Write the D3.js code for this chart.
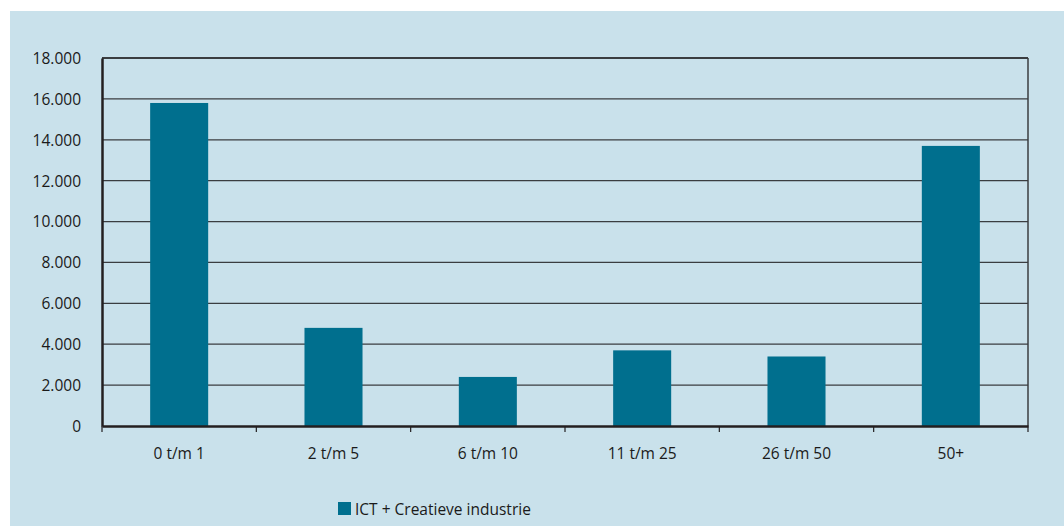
<!DOCTYPE html>
<html>
<head>
<meta charset="utf-8">
<script src="https://cdn.jsdelivr.net/npm/d3@7"></script>
<style>
  body { margin: 0; background: #fff; }
  svg text { font-family: "Open Sans", "Noto Sans", sans-serif; font-size: 15.5px; fill: #1a1a1a; }
</style>
</head>
<body>
<div id="chart"></div>
<script>
// data
var categories = ['0 t/m 1', '2 t/m 5', '6 t/m 10', '11 t/m 25', '26 t/m 50', '50+'];
var values = [15800, 4800, 2400, 3700, 3400, 13700];
var yTicks = [0, 2000, 4000, 6000, 8000, 10000, 12000, 14000, 16000, 18000];
var seriesName = 'ICT + Creatieve industrie';

var size = { w: 1064, h: 526 };
var plot = { left: 102, right: 1028, top: 58, bottom: 426 };
var barColor = '#006f8e';
var fontSize = '15.5px';

var svg = d3.select('#chart').append('svg')
  .attr('width', size.w)
  .attr('height', size.h);

// background panel
svg.append('rect')
  .attr('x', 10).attr('y', 11)
  .attr('width', size.w - 10).attr('height', size.h - 11)
  .attr('fill', '#c9e1eb');

var x = d3.scaleBand()
  .domain(categories)
  .range([plot.left, plot.right])
  .paddingInner(0.624)
  .paddingOuter(0.312);
var xTicks = d3.scaleBand().domain(categories).range([plot.left, plot.right]);

var y = d3.scaleLinear()
  .domain([0, 18000])
  .range([plot.bottom, plot.top]);

var fmt = function(d) { return d3.format(',')(d).replace(/,/g, '.'); };

// gridlines
svg.append('g').selectAll('line').data(yTicks.slice(1))
  .enter().append('line')
  .attr('x1', plot.left).attr('x2', plot.right)
  .attr('y1', function(d) { return y(d); })
  .attr('y2', function(d) { return y(d); })
  .attr('stroke', '#3a3d40')
  .attr('stroke-width', function(d) { return d === 18000 ? 2 : 1.2; });

// right border
svg.append('line')
  .attr('x1', plot.right).attr('x2', plot.right)
  .attr('y1', plot.top).attr('y2', plot.bottom)
  .attr('stroke', '#3a3d40').attr('stroke-width', 1.5);

// bars
svg.append('g').selectAll('rect').data(values)
  .enter().append('rect')
  .attr('x', function(d, i) { return x(categories[i]); })
  .attr('y', function(d) { return y(d); })
  .attr('width', x.bandwidth())
  .attr('height', function(d) { return y(0) - y(d); })
  .attr('fill', barColor);

// y axis
var yAxis = svg.append('g')
  .attr('transform', 'translate(' + plot.left + ',0)')
  .call(d3.axisLeft(y).tickValues(yTicks).tickSize(0).tickPadding(21).tickFormat(fmt));
yAxis.select('.domain').attr('stroke', '#231f20').attr('stroke-width', 2.5);
yAxis.selectAll('text').attr('dy', '0.35em').style('font-size', fontSize).style('font-family', '"Open Sans", sans-serif').attr('fill', '#1a1a1a');

// x axis
var xAxis = svg.append('g')
  .attr('transform', 'translate(0,' + plot.bottom + ')')
  .call(d3.axisBottom(xTicks).tickSize(0).tickPadding(22));
xAxis.select('.domain').attr('stroke', '#231f20').attr('stroke-width', 2.5);
xAxis.selectAll('text').style('font-size', fontSize).style('font-family', '"Open Sans", sans-serif').attr('fill', '#1a1a1a');

// x tick marks at band edges
var edges = categories.map(function(c) { return xTicks(c); }).concat([plot.right]);
svg.append('g').selectAll('line').data(edges)
  .enter().append('line')
  .attr('x1', function(d) { return d; }).attr('x2', function(d) { return d; })
  .attr('y1', plot.bottom).attr('y2', plot.bottom + 6)
  .attr('stroke', '#231f20').attr('stroke-width', 1.2);

// legend
var legend = svg.append('g').attr('transform', 'translate(338,502)');
legend.append('rect').attr('width', 13).attr('height', 13).attr('fill', barColor);
legend.append('text').attr('x', 17).attr('y', 13).text(seriesName);
</script>
</body>
</html>
